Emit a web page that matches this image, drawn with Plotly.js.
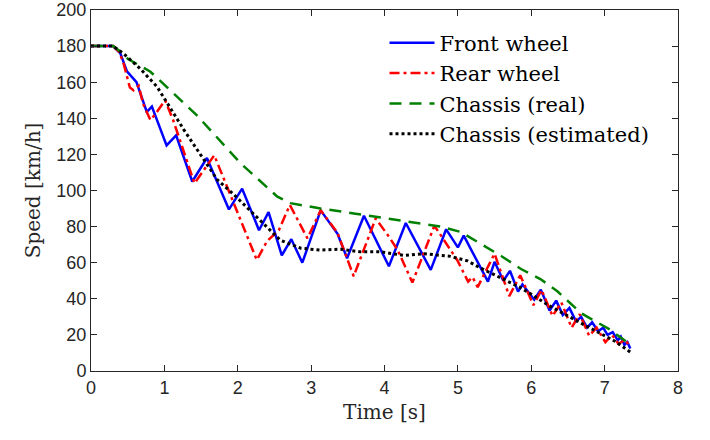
<!DOCTYPE html>
<html>
<head>
<meta charset="utf-8">
<script src="https://cdn.plot.ly/plotly-3.0.1.min.js"></script>
<style>html,body{margin:0;padding:0;background:#fff;}#chart{width:710px;height:440px;}</style>
</head>
<body>
<div id="chart"></div>
<script>
const frontT = [0, 0.3, 0.4, 0.49, 0.62, 0.69, 0.76, 0.83, 1.03, 1.16, 1.38, 1.58, 1.88, 2.06, 2.29, 2.42, 2.6, 2.73, 2.88, 3.13, 3.36, 3.49, 3.72, 4.06, 4.29, 4.63, 4.84, 5.0, 5.08, 5.41, 5.5, 5.62, 5.71, 5.82, 5.88, 6.04, 6.13, 6.25, 6.34, 6.43, 6.52, 6.61, 6.68, 6.76, 6.83, 6.91, 6.98, 7.04, 7.11, 7.18, 7.22, 7.27, 7.31, 7.35];
const frontV = [180, 180, 176, 166, 160, 152, 143.5, 146.5, 125, 130.5, 105, 118, 89.5, 101, 78, 88, 64, 73, 60, 89, 76, 62.5, 86, 58, 82, 56, 78.5, 68.5, 75, 49.5, 60.5, 50, 55.5, 44, 48, 39.5, 45, 33.5, 39, 31, 35, 27.5, 30, 24, 27, 22, 24, 20, 21.5, 17, 19, 14.5, 16, 12.5];

const rearT = [0, 0.3, 0.38, 0.44, 0.53, 0.58, 0.65, 0.71, 0.81, 0.87, 1.01, 1.12, 1.41, 1.68, 2.26, 2.4, 2.56, 2.71, 2.95, 3.13, 3.36, 3.58, 3.88, 4.05, 4.18, 4.38, 4.68, 4.99, 5.14, 5.2, 5.27, 5.5, 5.7, 5.85, 6.03, 6.14, 6.29, 6.41, 6.55, 6.66, 6.79, 6.89, 7.01, 7.1, 7.19, 7.28, 7.34];
const rearV = [180, 180, 177, 171, 157, 155.5, 158, 148, 139, 142, 150, 139, 104, 119.5, 61.5, 72, 78, 92, 73.5, 89, 76.5, 52.5, 84.5, 75, 67, 49, 80.5, 61.5, 49.5, 52, 46.5, 65, 41.5, 53, 36.5, 45, 30.5, 38, 24, 31.5, 19.5, 24, 16, 20, 15, 17.5, 13.5];

const realT = [0, 0.3, 0.4, 0.5, 0.81, 1.44, 2.04, 2.54, 2.72, 3.13, 3.58, 3.86, 4.2, 4.77, 5.04, 5.31, 5.59, 5.86, 6.13, 6.36, 6.68, 7.05, 7.34];
const realV = [180, 180, 177, 173, 165.8, 141.8, 115, 96.6, 93, 90, 87.3, 85.5, 83.5, 80, 77, 70.5, 63.7, 56.5, 50.8, 44, 32, 23.5, 15];

const estT = [0, 0.3, 0.44, 0.67, 0.9, 1.03, 1.26, 1.49, 1.72, 1.94, 2.31, 2.58, 2.86, 3.13, 3.4, 3.67, 3.95, 4.27, 4.54, 4.9, 5.13, 5.31, 5.59, 5.86, 6.04, 6.23, 6.68, 7.14, 7.35];
const estV = [180, 180, 176, 167.5, 157.5, 149, 134, 120, 106, 98, 83, 72.5, 68, 67, 67.5, 66, 66, 64, 65, 63.5, 61, 57, 51.5, 46, 41.5, 36.5, 26.5, 16.5, 10.5];

const seriesNames = ["Front wheel", "Rear wheel", "Chassis (real)", "Chassis (estimated)"];

const serif = "DejaVu Serif, Liberation Serif, serif";

const traces = [
  {x: frontT, y: frontV, name: seriesNames[0], mode: "lines", line: {color: "#0000ff", width: 2.5}},
  {x: rearT, y: rearV, name: seriesNames[1], mode: "lines", line: {color: "#ff0000", width: 2.5, dash: "10px,4px,3px,4px"}},
  {x: realT, y: realV, name: seriesNames[2], mode: "lines", line: {color: "#008000", width: 2.5, dash: "12px,8px"}},
  {x: estT, y: estV, name: seriesNames[3], mode: "lines", line: {color: "#000000", width: 3, dash: "dot"}}
];

const axisCommon = {
  showline: true, linecolor: "#262626", linewidth: 1, mirror: "ticks",
  ticks: "inside", ticklen: 6, tickcolor: "#262626", tickwidth: 1,
  showgrid: false, zeroline: false,
  tickfont: {family: "Liberation Sans, Arial, sans-serif", size: 18, color: "#262626"}
};

const layout = {
  width: 710, height: 440,
  margin: {l: 91, r: 32, t: 10, b: 69},
  paper_bgcolor: "#fff", plot_bgcolor: "#fff",
  showlegend: true,
  legend: {
    x: 0.5, y: 0.965, xanchor: "left", yanchor: "top",
    bgcolor: "rgba(255,255,255,0)", borderwidth: 0,
    itemwidth: 45,
    font: {family: serif, size: 21, color: "#000"}
  },
  xaxis: Object.assign({}, axisCommon, {
    range: [0, 8], tickvals: [0,1,2,3,4,5,6,7,8],
    title: {text: "Time [s]", font: {family: serif, size: 20, color: "#262626"}, standoff: 8}
  }),
  yaxis: Object.assign({}, axisCommon, {
    range: [0, 200], tickvals: [0,20,40,60,80,100,120,140,160,180,200],
    title: {text: "Speed [km/h]", font: {family: serif, size: 20, color: "#262626"}, standoff: 10}
  })
};

Plotly.newPlot("chart", traces, layout, {displayModeBar: false, staticPlot: true});
</script>
</body>
</html>
